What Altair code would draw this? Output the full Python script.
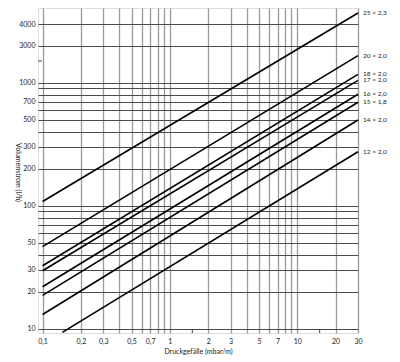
import altair as alt
import pandas as pd

# ---- data ----
pipes = ["25 × 2,3", "20 × 2,0", "18 × 2,0", "17 × 2,0",
         "16 × 2,0", "15 × 1,8", "14 × 2,0", "12 × 2,0"]
x_start = [0.1, 0.1, 0.1, 0.1, 0.1, 0.1, 0.1, 0.143]
y_start = [108, 46.4, 32.4, 29.5, 21.9, 18.6, 13.0, 9.3]
x_end = [30, 30, 30, 30, 30, 30, 30, 30]
y_end = [3690, 1660, 1167, 1044, 805, 693, 497, 274]

x_grid = [0.1, 0.2, 0.3, 0.4, 0.5, 0.6, 0.7, 0.8, 0.9,
          1, 2, 3, 4, 5, 6, 7, 8, 9, 10, 20, 30]
x_tick_values = [0.1, 0.2, 0.3, 0.5, 0.7, 1, 2, 3, 5, 7, 10, 20, 30]
x_tick_labels = ["0,1", "0,2", "0,3", "0,5", "0,7", "1", "2", "3", "5", "7", "10", "20", "30"]

y_grid = [10, 20, 30, 40, 50, 60, 70, 80, 90,
          100, 200, 300, 400, 500, 600, 700, 800, 900, 1000, 2000, 3000]
y_tick_values = [10, 20, 30, 50, 100, 200, 300, 500, 700, 1000, 2000, 3000]
y_tick_labels = ["10", "20", "30", "50", "100", "200", "300", "500", "700", "1000", "3000", "4000"]

x_minor = [1.5, 15]
y_minor = [1500]

FONT = "Lato"

def label_expr(values, labels):
    expr = "''"
    for v, l in reversed(list(zip(values, labels))):
        expr = f"abs(datum.value-{v})<{v}*1e-6 ? '{l}' : ({expr})"
    return expr

rows = []
for p, xs, ys, xe, ye in zip(pipes, x_start, y_start, x_end, y_end):
    rows.append({"pipe": p, "dp": xs, "q": ys, "o": 0})
    rows.append({"pipe": p, "dp": xe, "q": ye, "o": 1})
lines_df = pd.DataFrame(rows)
labels_df = pd.DataFrame({"pipe": pipes, "dp": x_end, "q": y_end})

xscale = alt.Scale(type="log", domain=[0.0921, 30], nice=False, zero=False)
yscale = alt.Scale(type="log", domain=[9.2, 4050], nice=False, zero=False)

x_axis = alt.Axis(values=x_grid, labelExpr=label_expr(x_tick_values, x_tick_labels),
                  title="Druckgefälle (mbar/m)", grid=True, gridColor="#9a9a9a",
                  gridWidth=1.3, tickSize=0, domain=False, labelPadding=4,
                  labelOverlap=False, labelBound=False, labelFlush=False,
                  labelFont=FONT, labelFontSize=7, labelColor="#222",
                  titleFont=FONT, titleFontSize=7, titleFontWeight="normal",
                  titleColor="#222", titlePadding=3)
y_axis = alt.Axis(values=y_grid, labelExpr=label_expr(y_tick_values, y_tick_labels),
                  title="Volumenstrom (l/h)", grid=True, gridColor="#4a4a4a",
                  gridWidth=1, tickSize=0, domain=False, labelPadding=3,
                  labelOverlap=False, labelBound=False, labelFlush=False,
                  labelFont=FONT, labelFontSize=7, labelColor="#222",
                  titleFont=FONT, titleFontSize=7, titleFontWeight="normal",
                  titleColor="#222", titleAngle=90, titleX=-21, titleY=164,
                  titleAlign="center", titleBaseline="middle")

X = alt.X("dp:Q", scale=xscale, axis=x_axis)
Y = alt.Y("q:Q", scale=yscale, axis=y_axis)

lines = alt.Chart(lines_df).mark_line(color="black", strokeWidth=1.6).encode(
    x=X, y=Y, detail="pipe:N", order="o:Q",
)

labels = alt.Chart(labels_df).mark_text(align="left", baseline="middle", dx=5,
                                        font=FONT, fontSize=6.5, color="#222").encode(
    x=X, y=Y, text="pipe:N",
)

xt = alt.Chart(pd.DataFrame({"dp": x_minor})).mark_rule(color="#444", strokeWidth=1).encode(
    x=X, y=alt.value(325), y2=alt.value(321),
)
yt = alt.Chart(pd.DataFrame({"q": y_minor})).mark_rule(color="#444", strokeWidth=1).encode(
    y=Y, x=alt.value(0), x2=alt.value(4),
)

chart = alt.layer(lines, xt, yt, labels).properties(
    width=320, height=325,
    autosize=alt.AutoSizeParams(type="none"),
    padding={"left": 30, "top": 0, "right": 34, "bottom": 28},
).configure_view(stroke="#444", strokeWidth=1).configure(background="white")

chart.save("out.html", embed_options={"renderer": "svg", "actions": False})
